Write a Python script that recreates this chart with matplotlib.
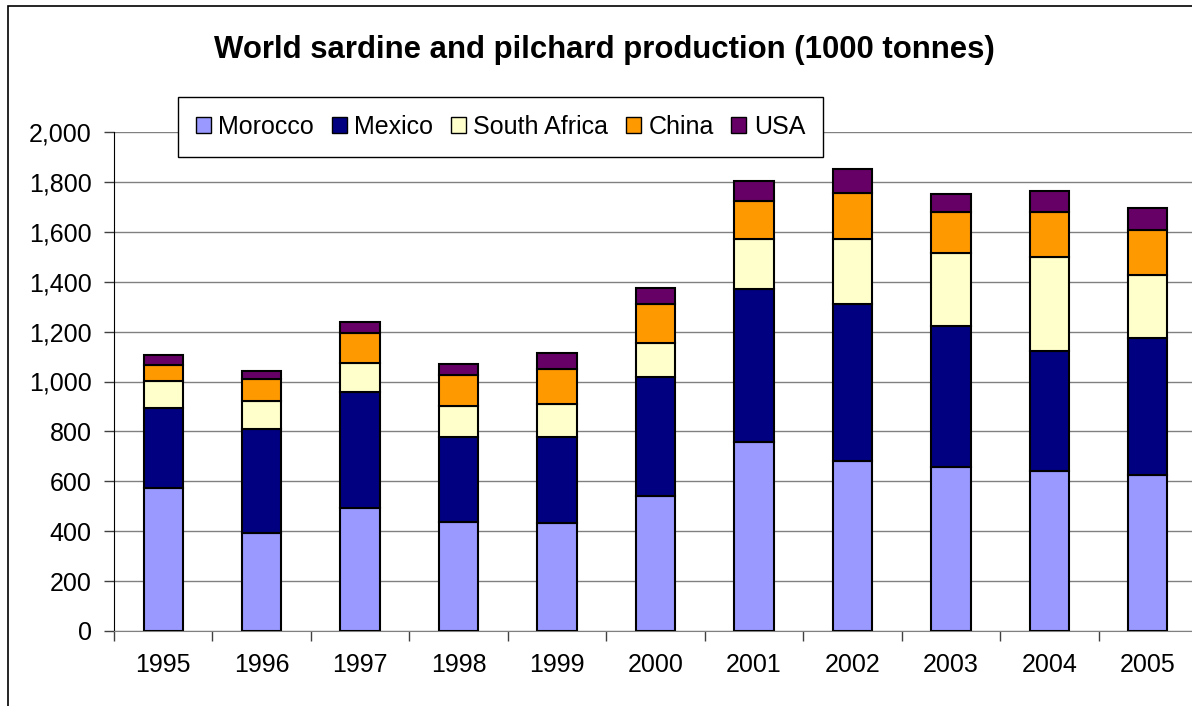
import matplotlib.pyplot as plt
from matplotlib.patches import Rectangle
from matplotlib.ticker import FuncFormatter, MultipleLocator
import numpy as np

plt.rcParams['font.family'] = ['Liberation Sans', 'DejaVu Sans']

# Datos (miles de toneladas)
years = ['1995', '1996', '1997', '1998', '1999', '2000', '2001', '2002', '2003', '2004', '2005']
morocco = [573, 393, 493, 437, 433, 541, 758, 681, 657, 641, 625]
mexico = [321, 417, 465, 341, 345, 477, 613, 630, 565, 481, 549]
south_africa = [110, 112, 116, 124, 132, 136, 200, 260, 293, 377, 253]
china = [64, 88, 120, 124, 140, 156, 152, 185, 164, 180, 180]
usa = [40, 32, 46, 44, 64, 65, 81, 96, 72, 85, 88]

series = [('Morocco', morocco, '#9999FF'),
          ('Mexico', mexico, '#000080'),
          ('South Africa', south_africa, '#FFFFCC'),
          ('China', china, '#FF9900'),
          ('USA', usa, '#660066')]

W, H = 1192, 706
fig = plt.figure(figsize=(W / 100, H / 100), dpi=100)
ax = fig.add_axes([114 / W, (H - 631) / H, 1083 / W, (631 - 132) / H])

x = np.arange(len(years))
bottom = np.zeros(len(years))
for name, vals, color in series:
    ax.bar(x, vals, width=0.4, bottom=bottom, color=color, edgecolor='black',
           linewidth=1.5, label=name, zorder=3)
    bottom += np.array(vals)

ax.set_xlim(-0.5, len(years) - 0.5)
ax.set_ylim(0, 2000)
ax.yaxis.set_major_locator(MultipleLocator(200))
ax.yaxis.set_major_formatter(FuncFormatter(lambda v, p: f'{int(v):,}'))
ax.grid(axis='y', color='#808080', linewidth=1.0, zorder=0)

ax.set_xticks(x)
ax.set_xticklabels(years)
ax.set_xticks(np.arange(-0.5, len(years)), minor=True)
ax.tick_params(axis='x', which='major', length=0, pad=16, labelsize=18)
ax.tick_params(axis='x', which='minor', length=7, width=1, color='#404040', direction='out')
ax.tick_params(axis='y', length=7, width=1, pad=9, labelsize=18, color='#404040')

for s in ['top', 'right']:
    ax.spines[s].set_visible(False)
ax.spines['left'].set_color('black')
ax.spines['bottom'].set_color('#808080')

fig.text(604 / W, 1 - 50 / H, 'World sardine and pilchard production (1000 tonnes)',
         ha='center', va='center', fontsize=22.4, fontweight='bold')

leg = fig.legend(loc='upper left', bbox_to_anchor=(178 / W, 1 - 97 / H), ncol=5,
                 fontsize=18, frameon=True, fancybox=False, edgecolor='black',
                 framealpha=1, borderpad=0.72, handlelength=0.6, handleheight=0.6,
                 handletextpad=0.3, columnspacing=0.7, borderaxespad=0)
leg.get_frame().set_linewidth(1.0)
for h in leg.legend_handles:
    h.set_linewidth(1.0)

# Marco exterior del gráfico (coordenadas en píxeles desde abajo)
fig.patches.append(Rectangle((8, -20), W + 20, H - 6 + 20, transform=None, fill=False,
                             edgecolor='black', linewidth=1.2))

plt.savefig('out.png', dpi=100)
